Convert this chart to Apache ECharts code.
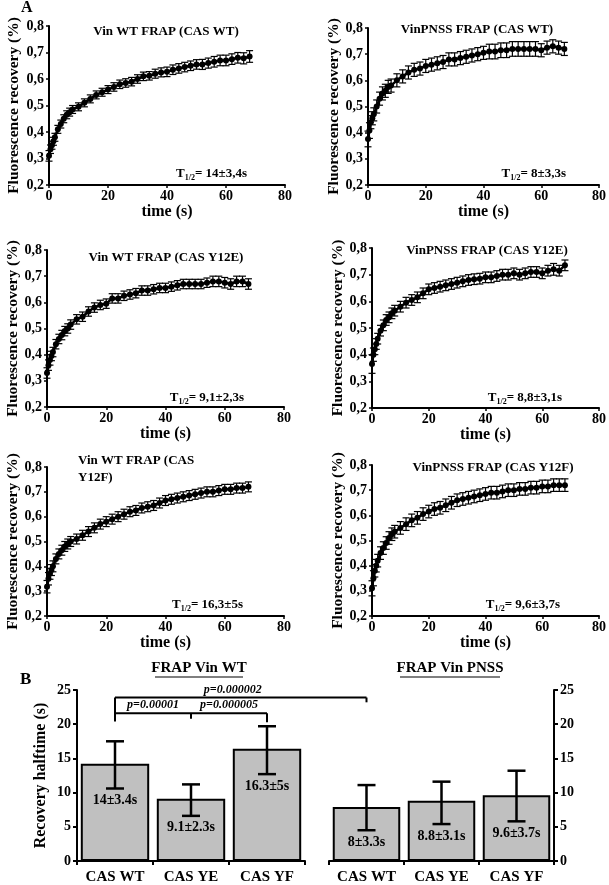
<!DOCTYPE html>
<html><head><meta charset="utf-8">
<script src="https://cdn.jsdelivr.net/npm/echarts@6/dist/echarts.min.js"></script>
<style>html,body{margin:0;padding:0;background:#fff}#c{width:609px;height:885px}</style>
</head><body><div id="c"></div>
<script>
// ---- data ----
const times = [0,0.5,1,1.5,2,3,4,5,6,7,8,10,12,14,16,18,20,22,24,26,28,30,32,34,36,38,40,42,44,46,48,50,52,54,56,58,60,62,64,66,68];

const vinWtCasWt = [0.31,0.335,0.35,0.365,0.38,0.41,0.43,0.45,0.465,0.475,0.485,0.495,0.51,0.525,0.54,0.55,0.56,0.57,0.58,0.585,0.59,0.60,0.61,0.612,0.62,0.625,0.627,0.635,0.64,0.645,0.65,0.655,0.655,0.66,0.665,0.67,0.67,0.675,0.68,0.678,0.685];
const errVinWtCasWt = [0.02,0.016,0.015,0.015,0.015,0.015,0.015,0.015,0.015,0.015,0.015,0.015,0.015,0.015,0.015,0.015,0.015,0.016,0.016,0.016,0.016,0.016,0.016,0.016,0.017,0.017,0.018,0.018,0.018,0.018,0.018,0.018,0.019,0.019,0.02,0.02,0.02,0.02,0.02,0.021,0.022];

const pnssCasWt = [0.376,0.408,0.44,0.455,0.47,0.50,0.53,0.55,0.56,0.575,0.58,0.60,0.615,0.63,0.64,0.645,0.655,0.66,0.665,0.67,0.68,0.68,0.685,0.69,0.695,0.70,0.705,0.71,0.71,0.715,0.715,0.72,0.72,0.72,0.72,0.72,0.715,0.725,0.73,0.725,0.72];
const errPnssCasWt = [0.03,0.03,0.025,0.025,0.025,0.025,0.025,0.025,0.025,0.025,0.025,0.025,0.025,0.025,0.025,0.025,0.025,0.025,0.025,0.025,0.025,0.025,0.025,0.025,0.025,0.025,0.025,0.028,0.028,0.028,0.028,0.028,0.028,0.028,0.028,0.028,0.025,0.025,0.025,0.025,0.025];

const vinWtCasYE = [0.33,0.36,0.38,0.395,0.41,0.44,0.46,0.475,0.49,0.50,0.515,0.535,0.545,0.565,0.58,0.59,0.595,0.615,0.615,0.625,0.63,0.635,0.645,0.645,0.65,0.655,0.655,0.66,0.665,0.67,0.67,0.67,0.67,0.675,0.68,0.68,0.675,0.67,0.68,0.68,0.67];
const errVinWtCasYE = [0.02,0.02,0.02,0.018,0.018,0.018,0.018,0.018,0.018,0.018,0.018,0.018,0.018,0.018,0.018,0.018,0.018,0.018,0.018,0.018,0.018,0.018,0.018,0.018,0.018,0.018,0.018,0.018,0.018,0.018,0.018,0.018,0.018,0.018,0.02,0.02,0.02,0.02,0.02,0.02,0.02];

const pnssCasYE = [0.365,0.40,0.42,0.44,0.46,0.49,0.51,0.53,0.54,0.555,0.565,0.58,0.595,0.605,0.615,0.63,0.645,0.65,0.655,0.66,0.665,0.67,0.675,0.68,0.683,0.685,0.69,0.69,0.695,0.70,0.70,0.705,0.70,0.705,0.71,0.71,0.705,0.715,0.72,0.715,0.735];
const errPnssCasYE = [0.035,0.025,0.02,0.02,0.02,0.02,0.02,0.02,0.02,0.02,0.02,0.02,0.02,0.02,0.02,0.02,0.02,0.02,0.02,0.02,0.02,0.02,0.02,0.02,0.02,0.02,0.02,0.02,0.02,0.02,0.02,0.02,0.02,0.02,0.02,0.02,0.02,0.02,0.022,0.02,0.02];

const vinWtCasYF = [0.318,0.35,0.37,0.385,0.40,0.43,0.45,0.465,0.48,0.49,0.50,0.51,0.525,0.54,0.555,0.57,0.58,0.59,0.60,0.61,0.62,0.625,0.635,0.64,0.645,0.655,0.665,0.67,0.675,0.68,0.685,0.69,0.695,0.70,0.70,0.705,0.71,0.71,0.715,0.715,0.72];
const errVinWtCasYF = [0.025,0.025,0.022,0.022,0.022,0.02,0.02,0.02,0.02,0.02,0.02,0.02,0.02,0.02,0.02,0.02,0.02,0.02,0.02,0.02,0.02,0.02,0.02,0.02,0.02,0.02,0.02,0.02,0.02,0.02,0.02,0.02,0.02,0.02,0.02,0.02,0.02,0.02,0.02,0.02,0.02];

const pnssCasYF = [0.31,0.35,0.38,0.40,0.42,0.45,0.47,0.49,0.51,0.525,0.535,0.55,0.565,0.58,0.59,0.605,0.615,0.625,0.63,0.64,0.65,0.66,0.665,0.67,0.675,0.68,0.685,0.69,0.69,0.695,0.70,0.70,0.705,0.705,0.71,0.71,0.715,0.715,0.72,0.72,0.72];
const errPnssCasYF = [0.03,0.03,0.025,0.025,0.025,0.025,0.025,0.025,0.025,0.025,0.025,0.025,0.025,0.025,0.025,0.025,0.025,0.025,0.025,0.025,0.025,0.025,0.025,0.025,0.025,0.025,0.025,0.025,0.025,0.025,0.025,0.025,0.025,0.025,0.025,0.025,0.025,0.025,0.025,0.025,0.025];

const panelTitles = ['Vin WT FRAP (CAS WT)','VinPNSS FRAP (CAS WT)','Vin WT FRAP (CAS Y12E)','VinPNSS FRAP (CAS Y12E)','Vin WT FRAP (CAS\nY12F)','VinPNSS FRAP (CAS Y12F)'];
const halfTimes = ['14±3,4s','8±3,3s','9,1±2,3s','8,8±3,1s','16,3±5s','9,6±3,7s'];

const barCategories = ['CAS WT','CAS YE','CAS YF'];
const vinWtHalf = [14.2, 9.1, 16.4];
const vinWtLow = [10.6, 6.6, 12.7];
const vinWtHigh = [17.5, 11.2, 19.7];
const vinWtLabels = ['14±3.4s','9.1±2.3s','16.3±5s'];
const pnssHalf = [7.9, 8.8, 9.6];
const pnssLow = [4.5, 5.4, 5.8];
const pnssHigh = [11.1, 11.6, 13.2];
const pnssLabels = ['8±3.3s','8.8±3.1s','9.6±3.7s'];
const pValues = ['p=0.000002','p=0.00001','p=0.000005'];

// ---- layout ----
const FONT = 'Liberation Serif';
const serif = (size) => ({fontFamily:FONT, fontWeight:'bold', fontSize:size, color:'#000'});
const panels = [
  {v: vinWtCasWt, e: errVinWtCasWt, gap:27, grid:{left:49, top:26, width:236, height:159}},
  {v: pnssCasWt, e: errPnssCasWt, gap:23, grid:{left:368, top:28, width:234, height:157}},
  {v: vinWtCasYE, e: errVinWtCasYE, gap:26, grid:{left:47, top:250, width:237, height:157}},
  {v: pnssCasYE, e: errPnssCasYE, gap:23, grid:{left:372, top:248, width:230, height:160}},
  {v: vinWtCasYF, e: errVinWtCasYF, gap:26, grid:{left:47, top:467, width:237, height:149}},
  {v: pnssCasYF, e: errPnssCasYF, gap:23, grid:{left:372, top:465, width:230, height:151}}
];
const titlePos = [[166,32,'center'],[477,30,'center'],[166,258,'center'],[487,251,'center'],[78,469,'left'],[493,468,'center']];
const halfPos = [[247,174],[566,174],[244,398],[562,398],[243,605],[560,605]];

const grids = [], xAxes = [], yAxes = [], series = [], graphics = [];
const axisLine = {show:true, lineStyle:{color:'#000', width:2}};
const fmt = v => v.toFixed(1).replace('.', ',');

panels.forEach((p, i) => {
  grids.push(p.grid);
  xAxes.push({type:'value', gridIndex:i, min:0, max:80, interval:20,
    axisLine, axisTick:{show:true, length:3, lineStyle:{color:'#000', width:1.5}},
    splitLine:{show:false},
    axisLabel:Object.assign(serif(14), {margin:4}),
    name:'time (s)', nameLocation:'middle', nameGap:19,
    nameTextStyle:serif(16)});
  yAxes.push({type:'value', gridIndex:i, min:0.2, max:0.8, interval:0.1,
    axisLine, axisTick:{show:true, length:3, lineStyle:{color:'#000', width:1.5}},
    splitLine:{show:false},
    axisLabel:Object.assign(serif(14), {margin:5, formatter: fmt}),
    name:'Fluorescence recovery (%)', nameLocation:'middle', nameGap:p.gap,
    nameTextStyle:serif(15.5)});
  series.push({type:'custom', xAxisIndex:i, yAxisIndex:i, z:2,
    data: times.map((t, k) => [t, p.v[k] - p.e[k], p.v[k] + p.e[k]]),
    renderItem: (params, api) => {
      const lo = api.coord([api.value(0), api.value(1)]);
      const hi = api.coord([api.value(0), api.value(2)]);
      const w = 3.5;
      const st = {stroke:'#000', lineWidth:1.2};
      return {type:'group', children:[
        {type:'line', shape:{x1:lo[0], y1:lo[1], x2:hi[0], y2:hi[1]}, style:st},
        {type:'line', shape:{x1:lo[0]-w, y1:lo[1], x2:lo[0]+w, y2:lo[1]}, style:st},
        {type:'line', shape:{x1:hi[0]-w, y1:hi[1], x2:hi[0]+w, y2:hi[1]}, style:st}
      ]};
    }});
  series.push({type:'line', xAxisIndex:i, yAxisIndex:i, z:3,
    data: times.map((t, k) => [t, p.v[k]]),
    symbol:'circle', symbolSize:6, showSymbol:true,
    itemStyle:{color:'#000'}, lineStyle:{color:'#000', width:2.5}, animation:false});
  const tp = titlePos[i];
  graphics.push({type:'text', x:tp[0], y:tp[1], style:{text:panelTitles[i], fill:'#000',
    font:'bold 13px "Liberation Serif"', align:tp[2], verticalAlign:'middle', lineHeight:17}});
  const hp = halfPos[i];
  graphics.push({type:'text', x:hp[0], y:hp[1], style:{
    text:'{a|T}{s|1/2}{a|= ' + halfTimes[i] + '}', align:'right', verticalAlign:'middle',
    rich:{a:{fontFamily:FONT, fontWeight:'bold', fontSize:13, fill:'#000', lineHeight:16, verticalAlign:'middle'},
          s:{fontFamily:FONT, fontWeight:'bold', fontSize:8, fill:'#000', lineHeight:16, verticalAlign:'bottom'}}}});
});

// bar grids
const barGridL = grids.length;
grids.push({left:77, top:690, width:228, height:174});
grids.push({left:329, top:690, width:225, height:174});
[0,1].forEach(j => {
  xAxes.push({type:'category', gridIndex:barGridL + j, data:barCategories,
    axisLine, axisTick:{show:true, length:4, lineStyle:{color:'#000', width:2}},
    axisLabel:Object.assign(serif(15), {margin:9, interval:0})});
});
yAxes.push({type:'value', gridIndex:barGridL, min:0, max:25, interval:5, position:'left',
  axisLine, axisTick:{show:true, length:4, lineStyle:{color:'#000', width:2}}, splitLine:{show:false},
  axisLabel:Object.assign(serif(14), {margin:6}),
  name:'Recovery halftime (s)', nameLocation:'middle', nameGap:28,
  nameTextStyle:serif(16)});
yAxes.push({type:'value', gridIndex:barGridL + 1, min:0, max:25, interval:5, position:'right',
  axisLine, axisTick:{show:true, length:4, lineStyle:{color:'#000', width:2}}, splitLine:{show:false},
  axisLabel:Object.assign(serif(14), {margin:6})});

[[vinWtHalf, vinWtLow, vinWtHigh, vinWtLabels],[pnssHalf, pnssLow, pnssHigh, pnssLabels]].forEach((g, j) => {
  const ax = barGridL + j;
  series.push({type:'bar', xAxisIndex:ax, yAxisIndex:ax, data:g[0], barWidth:'90%', z:2,
    itemStyle:{color:'#c0c0c0', borderColor:'#000', borderWidth:2}, animation:false});
  series.push({type:'custom', xAxisIndex:ax, yAxisIndex:ax, z:3,
    data: g[0].map((v, k) => [k, g[1][k], g[2][k]]),
    renderItem: (params, api) => {
      const lo = api.coord([api.value(0), api.value(1)]);
      const hi = api.coord([api.value(0), api.value(2)]);
      const w = 9;
      const st = {stroke:'#000', lineWidth:2.5};
      return {type:'group', children:[
        {type:'line', shape:{x1:lo[0], y1:lo[1], x2:hi[0], y2:hi[1]}, style:st},
        {type:'line', shape:{x1:lo[0]-w, y1:lo[1], x2:lo[0]+w, y2:lo[1]}, style:st},
        {type:'line', shape:{x1:hi[0]-w, y1:hi[1], x2:hi[0]+w, y2:hi[1]}, style:st},
        {type:'text', x:lo[0], y:lo[1] + 12, style:{text:g[3][params.dataIndex], fill:'#000',
          font:'bold 14px "Liberation Serif"', align:'center', verticalAlign:'middle'}}
      ]};
    }});
});

graphics.push({type:'text', x:21, y:8, style:{text:'A', fill:'#000', font:'bold 16px "Liberation Serif"', verticalAlign:'middle'}});
graphics.push({type:'text', x:20, y:680, style:{text:'B', fill:'#000', font:'bold 17px "Liberation Serif"', verticalAlign:'middle'}});
graphics.push({type:'text', x:199, y:668, style:{text:'FRAP Vin WT', fill:'#000', font:'bold 15px "Liberation Serif"', align:'center', verticalAlign:'middle'}});
graphics.push({type:'line', shape:{x1:155, y1:677, x2:243, y2:677}, style:{stroke:'#000', lineWidth:1.2}});
graphics.push({type:'text', x:450, y:668, style:{text:'FRAP Vin PNSS', fill:'#000', font:'bold 15px "Liberation Serif"', align:'center', verticalAlign:'middle'}});
graphics.push({type:'line', shape:{x1:400, y1:677, x2:500, y2:677}, style:{stroke:'#000', lineWidth:1.2}});

const chart = echarts.init(document.getElementById('c'), null, {renderer:'canvas'});
chart.setOption({animation:false, textStyle:{fontFamily:FONT},
  grid:grids, xAxis:xAxes, yAxis:yAxes, series, graphic:graphics});

// significance brackets, placed through the bar axes
const L = barGridL, R = barGridL + 1;
const px = (ax, cat, val) => chart.convertToPixel({xAxisIndex:ax, yAxisIndex:ax}, [cat, val]);
const bst = {stroke:'#000', lineWidth:2};
const a0 = px(L, 0, 23.9), a1 = px(R, 0, 23.9), a0d = px(L, 0, 20.4), a1d = px(R, 0, 23.2);
const b0 = px(L, 0, 21.6), b1 = px(L, 1, 21.6), b2 = px(L, 2, 21.6);
const b1d = px(L, 1, 20.8), b2d = px(L, 2, 20.3);
const extra = [
  {type:'line', shape:{x1:a0[0], y1:a0[1], x2:a1[0], y2:a1[1]}, style:bst},
  {type:'line', shape:{x1:a0[0], y1:a0[1], x2:a0d[0], y2:a0d[1]}, style:bst},
  {type:'line', shape:{x1:a1[0], y1:a1[1], x2:a1d[0], y2:a1d[1]}, style:bst},
  {type:'line', shape:{x1:b0[0], y1:b0[1], x2:b2[0], y2:b2[1]}, style:bst},
  {type:'line', shape:{x1:b1[0], y1:b1[1], x2:b1d[0], y2:b1d[1]}, style:bst},
  {type:'line', shape:{x1:b2[0], y1:b2[1], x2:b2d[0], y2:b2d[1]}, style:bst},
  {type:'text', x:(a0[0] + a1[0]) / 2 - 8, y:a0[1] - 8, style:{text:pValues[0], fill:'#000', font:'italic bold 12px "Liberation Serif"', align:'center', verticalAlign:'middle'}},
  {type:'text', x:(b0[0] + b1[0]) / 2, y:b0[1] - 8, style:{text:pValues[1], fill:'#000', font:'italic bold 12px "Liberation Serif"', align:'center', verticalAlign:'middle'}},
  {type:'text', x:(b1[0] + b2[0]) / 2, y:b0[1] - 8, style:{text:pValues[2], fill:'#000', font:'italic bold 12px "Liberation Serif"', align:'center', verticalAlign:'middle'}}
];
chart.setOption({graphic: graphics.concat(extra)});
</script></body></html>
